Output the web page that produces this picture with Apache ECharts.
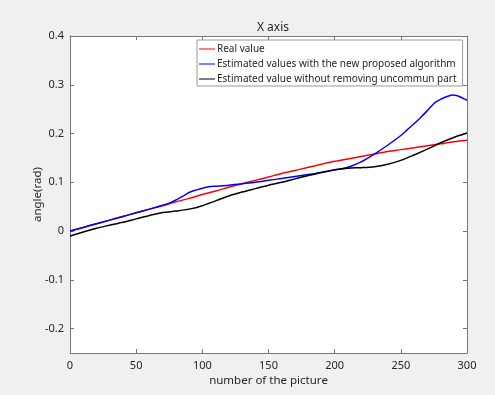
<!DOCTYPE html>
<html>
<head>
<meta charset="utf-8">
<script src="https://cdn.jsdelivr.net/npm/echarts@6/dist/echarts.min.js"></script>
<style>
  html, body { margin: 0; padding: 0; background: #f0f0f0; }
  #chart { width: 495px; height: 395px; }
</style>
</head>
<body>
<div id="chart"></div>
<script>
// picture numbers and angles
var pictureNumbers = [0, 10, 20, 30, 40, 50, 60, 70, 80, 90, 100, 110, 120, 130, 140, 150,
    160, 170, 180, 190, 200, 210, 220, 230, 240, 250, 260, 270, 280, 290, 300];
var realValue = [0, 0.0075, 0.015, 0.0225, 0.030, 0.0375, 0.045, 0.052, 0.060, 0.067, 0.075,
    0.082, 0.090, 0.097, 0.104, 0.111, 0.118, 0.124, 0.131, 0.137, 0.143, 0.148, 0.153,
    0.158, 0.163, 0.167, 0.171, 0.175, 0.179, 0.183, 0.186];
var withoutRemoving = [-0.010, -0.002, 0.006, 0.012, 0.018, 0.025, 0.032, 0.038, 0.041,
    0.045, 0.052, 0.062, 0.072, 0.080, 0.087, 0.094, 0.100, 0.107, 0.114, 0.120, 0.126,
    0.129, 0.130, 0.132, 0.137, 0.145, 0.156, 0.168, 0.181, 0.192, 0.201];

var proposedNumbers = [0, 10, 20, 30, 40, 50, 60, 70, 75, 80, 85, 90, 95, 100, 105, 110, 120,
    130, 140, 150, 160, 170, 180, 190, 200, 210, 220, 230, 240, 250, 255, 260, 265, 270, 273,
    276, 280, 283, 286, 289, 292, 295, 298, 300];
var proposedValue = [0, 0.0075, 0.015, 0.0225, 0.030, 0.0375, 0.045, 0.053, 0.057, 0.064,
    0.071, 0.079, 0.084, 0.088, 0.091, 0.092, 0.094, 0.097, 0.100, 0.104, 0.108, 0.112,
    0.116, 0.120, 0.125, 0.131, 0.142, 0.158, 0.176, 0.196, 0.208, 0.220, 0.233, 0.247,
    0.256, 0.264, 0.270, 0.274, 0.277, 0.279, 0.278, 0.275, 0.271, 0.268];

var xTicks = [0, 50, 100, 150, 200, 250, 300];
var yTicks = [-0.2, -0.1, 0, 0.1, 0.2, 0.3, 0.4];

function pairs(xs, ys) {
    return xs.map(function (x, i) { return [x, ys[i]]; });
}

var chart = echarts.init(document.getElementById('chart'));
var axisColor = '#777777';
var textColor = '#262626';
var font = 'Noto Sans';
var lineIcon = 'path://M0,5.5 L16,5.5 L16,6.5 L0,6.5 Z';

var boxAxis = {
    axisLine: { show: true, onZero: false, lineStyle: { color: axisColor, width: 1 } },
    axisTick: { show: true, inside: true, length: 4, lineStyle: { color: axisColor } },
    splitLine: { show: false }
};

chart.setOption({
    backgroundColor: '#f0f0f0',
    animation: false,
    textStyle: { fontFamily: font },
    title: {
        text: 'X axis',
        left: 268, top: 17, textAlign: 'center',
        textStyle: { fontFamily: font, fontSize: 12, fontWeight: 'normal', color: textColor }
    },
    legend: {
        orient: 'vertical',
        left: 197, top: 40,
        padding: [3, 6, 1, 2],
        itemGap: 3,
        itemWidth: 16, itemHeight: 12,
        backgroundColor: '#ffffff',
        borderColor: '#999999', borderWidth: 1, borderRadius: 0,
        textStyle: { fontFamily: font, fontSize: 10, lineHeight: 12, color: textColor,
            padding: [0, 0, 0, -3] },
        data: [
            { name: 'Real value', icon: lineIcon },
            { name: 'Estimated values with the new proposed algorithm', icon: lineIcon },
            { name: 'Estimated value without removing uncommun part', icon: lineIcon }
        ]
    },
    grid: {
        left: 70, right: 28, top: 36, bottom: 42,
        show: true, backgroundColor: '#ffffff', borderWidth: 0
    },
    xAxis: [
        Object.assign({}, boxAxis, {
            type: 'value', min: 0, max: 300, interval: 50, position: 'bottom',
            name: 'number of the picture', nameLocation: 'middle', nameGap: 22,
            nameMoveOverlap: false,
            nameTextStyle: { fontFamily: font, fontSize: 11.5, color: textColor },
            axisLabel: { fontFamily: font, fontSize: 11, color: textColor, margin: 7,
                customValues: xTicks },
            axisTick: Object.assign({}, boxAxis.axisTick, { customValues: xTicks })
        }),
        Object.assign({}, boxAxis, {
            type: 'value', min: 0, max: 300, interval: 50, position: 'top',
            axisLabel: { show: false },
            axisTick: Object.assign({}, boxAxis.axisTick, { customValues: xTicks })
        })
    ],
    yAxis: [
        Object.assign({}, boxAxis, {
            type: 'value', min: -0.25, max: 0.4, position: 'left',
            name: 'angle(rad)', nameLocation: 'middle', nameGap: 26, nameRotate: 90,
            nameMoveOverlap: false,
            nameTextStyle: { fontFamily: font, fontSize: 11.5, color: textColor },
            axisLabel: { fontFamily: font, fontSize: 11, color: textColor, margin: 6,
                customValues: yTicks },
            axisTick: Object.assign({}, boxAxis.axisTick, { customValues: yTicks })
        }),
        Object.assign({}, boxAxis, {
            type: 'value', min: -0.25, max: 0.4, position: 'right',
            axisLabel: { show: false },
            axisTick: Object.assign({}, boxAxis.axisTick, { customValues: yTicks })
        })
    ],
    series: [
        {
            name: 'Real value', type: 'line', showSymbol: false, smooth: 0.3,
            data: pairs(pictureNumbers, realValue),
            lineStyle: { color: '#ff0000', width: 1.5 }, itemStyle: { color: '#ff0000' }
        },
        {
            name: 'Estimated values with the new proposed algorithm', type: 'line',
            showSymbol: false, smooth: 0.3,
            data: pairs(proposedNumbers, proposedValue),
            lineStyle: { color: '#0000ff', width: 1.5 }, itemStyle: { color: '#0000ff' }
        },
        {
            name: 'Estimated value without removing uncommun part', type: 'line',
            showSymbol: false, smooth: 0.3,
            data: pairs(pictureNumbers, withoutRemoving),
            lineStyle: { color: '#000000', width: 1.5 }, itemStyle: { color: '#000000' }
        }
    ]
});
</script>
</body>
</html>
